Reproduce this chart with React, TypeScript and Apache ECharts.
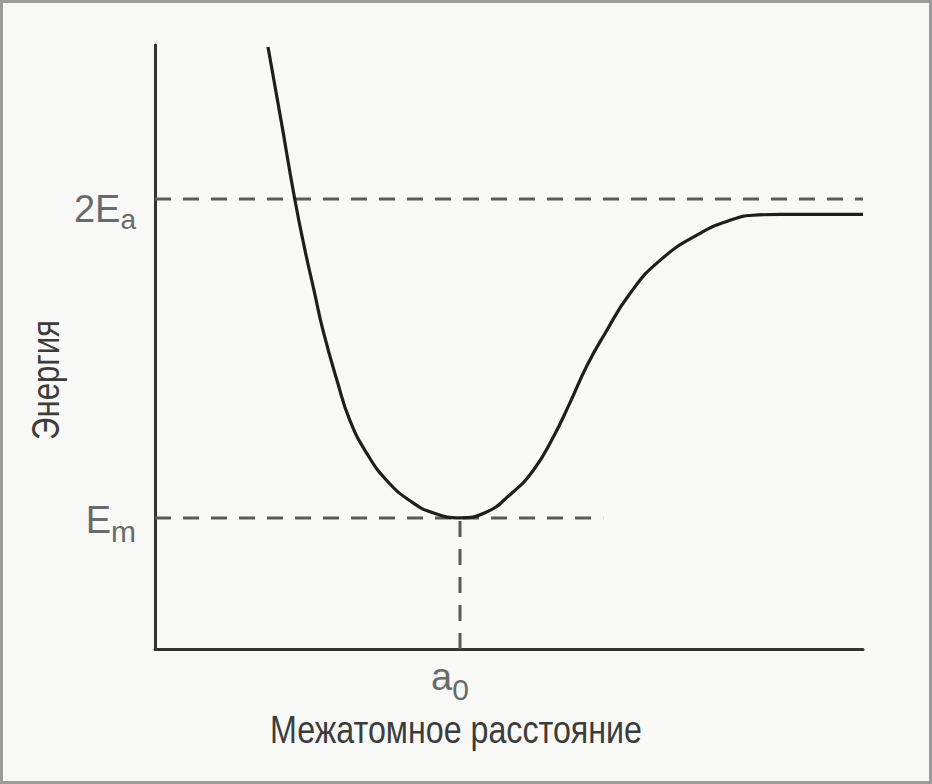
import React, { useEffect, useRef } from "react";
import * as echarts from "echarts";

// Potential-energy curve (x: 0..100 across the plot, y: 0..100 up the plot)
const curveX = [15.96, 17.8, 19.77, 21.19, 22.46, 23.73, 25.71, 27.54, 29.94, 32.77, 36.02, 39.27, 43.08, 46.61, 50.14, 53.39, 56.21, 58.62, 61.02, 63.56, 67.09, 71.33, 76.98, 81.64, 84.46, 88.28, 100];
const curveY = [99.67, 87.56, 74.3, 66.0, 59.37, 52.74, 44.44, 37.81, 32.34, 27.86, 24.54, 22.55, 21.72, 22.55, 25.54, 29.52, 34.99, 40.8, 46.93, 52.24, 58.87, 64.34, 68.82, 71.14, 71.81, 71.97, 71.97];

const X_MAX = 100;
const Y_MAX = 100;
const E2A = 74.5; // level 2Ea
const EM = 21.7; // level Em
const A0 = 43.08; // equilibrium distance a0
const EM_DASH_END = 63.3;

const xTickValues = [A0];
const yTickValues = [EM, E2A];
const xAxisTitle = "Межатомное расстояние";
const yAxisTitle = "Энергия";

const LABEL_FONT = "'Liberation Sans', Arial, sans-serif";
const TITLE_FONT = "'Liberation Sans', Arial, sans-serif";
const TITLE_SIZE = 38;

function measure(text: string, font: string): number {
  try {
    const ctx = document.createElement("canvas").getContext("2d");
    if (!ctx) return 0;
    ctx.font = font;
    return ctx.measureText(text).width;
  } catch (e) {
    return 0;
  }
}

export default function App() {
  const ref = useRef<HTMLDivElement>(null);

  useEffect(() => {
    document.body.style.margin = "0";
    if (!ref.current) return;
    const chart = echarts.init(ref.current, null, { renderer: "svg" });

    const curve = curveX.map((x, i) => [x, curveY[i]]);
    const dashStyle = { color: "#5a5a5a", width: 3, type: [16, 12] as number[], cap: "butt" as const };
    const labelColor = "#6a6a6a";

    const font = `${TITLE_SIZE}px ${TITLE_FONT}`;
    const wx = measure(xAxisTitle, font);
    const wy = measure(yAxisTitle, font);
    const sx = wx > 0 ? 372 / wx : 0.85;
    const sy = wy > 0 ? 120 / wy : 0.85;

    chart.setOption({
      animation: false,
      backgroundColor: "#f8f8f7",
      grid: { left: 155, right: 69, top: 45, bottom: 135, containLabel: false },
      xAxis: {
        type: "value",
        min: 0,
        max: X_MAX,
        splitLine: { show: false },
        axisTick: { show: false },
        axisLine: { show: true, lineStyle: { color: "#333", width: 3 } },
        axisLabel: {
          customValues: xTickValues,
          margin: 1,
          padding: [0, 20, 0, 0],
          formatter: () => "{m|a}{s|0}",
          rich: {
            m: { fontSize: 38, color: labelColor, fontFamily: LABEL_FONT, verticalAlign: "middle" },
            s: { fontSize: 30, color: labelColor, fontFamily: LABEL_FONT, verticalAlign: "middle", padding: [24, 0, 0, 0] },
          },
        },
      },
      yAxis: {
        type: "value",
        min: 0,
        max: Y_MAX,
        splitLine: { show: false },
        axisTick: { show: false },
        axisLine: { show: true, lineStyle: { color: "#333", width: 3 } },
        axisLabel: {
          customValues: yTickValues,
          margin: 19,
          formatter: (v: number) => (v === E2A ? "{m2|2E}{s2|a}" : "{mE|E}{sE|m}"),
          rich: {
            m2: { fontSize: 38, color: labelColor, fontFamily: LABEL_FONT, verticalAlign: "middle", padding: [20, 0, 0, 0] },
            s2: { fontSize: 28, color: labelColor, fontFamily: LABEL_FONT, verticalAlign: "middle", padding: [40, 0, 0, 0] },
            mE: { fontSize: 38, color: labelColor, fontFamily: LABEL_FONT, verticalAlign: "middle", padding: [5, 0, 0, 0] },
            sE: { fontSize: 30, color: labelColor, fontFamily: LABEL_FONT, verticalAlign: "middle", padding: [27, 0, 0, 0] },
          },
        },
      },
      graphic: [
        {
          type: "rect",
          silent: true,
          z: 100,
          shape: { x: 1.5, y: 1.5, width: 929, height: 781 },
          style: { fill: "none", stroke: "#9a9a9a", lineWidth: 3 },
        },
        {
          type: "text",
          silent: true,
          x: 456,
          y: 730,
          scaleX: sx,
          style: {
            text: xAxisTitle,
            font,
            fill: "#3c3c3c",
            textAlign: "center",
            textVerticalAlign: "middle",
          },
        },
        {
          type: "text",
          silent: true,
          x: 46,
          y: 380,
          rotation: Math.PI / 2,
          scaleX: sy,
          style: {
            text: yAxisTitle,
            font,
            fill: "#3c3c3c",
            textAlign: "center",
            textVerticalAlign: "middle",
          },
        },
      ],
      series: [
        {
          type: "line",
          data: [[0, E2A], [X_MAX, E2A]],
          showSymbol: false,
          silent: true,
          lineStyle: dashStyle,
          z: 2,
        },
        {
          type: "line",
          data: [[0, EM], [EM_DASH_END, EM]],
          showSymbol: false,
          silent: true,
          lineStyle: dashStyle,
          z: 2,
        },
        {
          type: "line",
          data: [[A0, 0], [A0, EM]],
          showSymbol: false,
          silent: true,
          lineStyle: dashStyle,
          z: 2,
        },
        {
          type: "line",
          data: curve,
          smooth: 0.5,
          showSymbol: false,
          silent: true,
          lineStyle: { color: "#1e1e1e", width: 3.2 },
          z: 3,
        },
      ],
    });

    return () => chart.dispose();
  }, []);

  return <div ref={ref} style={{ position: "fixed", left: 0, top: 0, width: 932, height: 784 }} />;
}
